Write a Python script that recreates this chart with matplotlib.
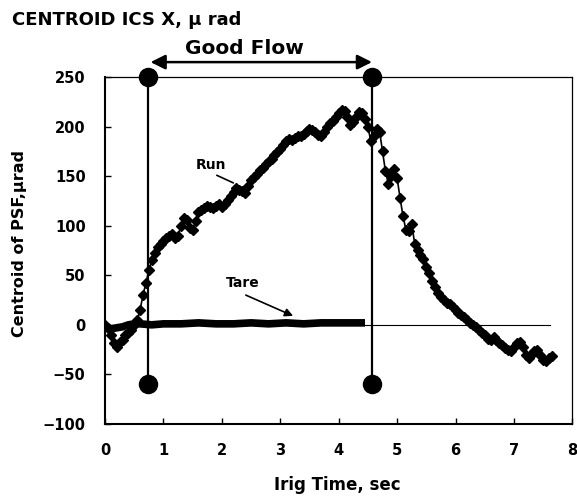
import numpy as np
import matplotlib
matplotlib.use("Agg")
import matplotlib.pyplot as plt

plt.rcParams['font.family'] = ['DejaVu Sans']

# ---- data ----
run_t = np.round(np.arange(0, 7.66, 0.05), 2)
run_v = [0, -3, -10, -18, -22, -17, -15, -10, -8, -5,
         0, 5, 15, 30, 42, 55, 65, 72, 79, 82,
         85, 88, 90, 92, 88, 90, 100, 108, 106, 98,
         96, 105, 114, 116, 118, 120, 119, 118, 120, 122,
         119, 122, 126, 130, 134, 138, 136, 135, 133, 140,
         146, 149, 152, 156, 158, 162, 165, 167, 171, 174,
         177, 181, 185, 187, 186, 188, 190, 190, 192, 196,
         198, 197, 194, 191, 190, 195, 200, 204, 206, 210,
         214, 217, 216, 210, 202, 205, 210, 215, 214, 208,
         200, 185, 190, 198, 195, 175, 155, 142, 150, 157,
         148, 128, 110, 96, 95, 102, 82, 75, 70, 66,
         58, 52, 44, 38, 32, 28, 25, 22, 21, 18,
         15, 12, 10, 8, 5, 2, 0, -2, -5, -8,
         -10, -14, -15, -12, -15, -18, -20, -23, -25, -26,
         -22, -18, -17, -22, -30, -33, -30, -26, -25, -30,
         -35, -36, -33, -31]

tare_t = [0.0, 0.1, 0.2, 0.3, 0.4, 0.5, 0.6, 0.8, 1.0, 1.3, 1.6, 1.9, 2.2,
          2.5, 2.8, 3.1, 3.4, 3.7, 4.0, 4.2, 4.45]
tare_v = [-2, -4, -3, -2, 0, 1, 1, 0, 1, 1, 2, 1, 1, 2, 1, 2, 1, 2, 2, 2, 2]
ref_t = [0.0, 7.62]
ref_v = [0, 0]

flow_start, flow_end = 0.73, 4.57
marker_top, marker_bottom = 250, -60

xticks = [0, 1, 2, 3, 4, 5, 6, 7, 8]
yticks = [-100, -50, 0, 50, 100, 150, 200, 250]

# ---- figure ----
fig = plt.figure(figsize=(5.77, 4.96), dpi=100)
ax = fig.add_axes([0.182, 0.1452, 0.810, 0.6996])
ax.set_xlim(0, 8)
ax.set_ylim(-100, 250)

ax.plot(ref_t, ref_v, color='black', lw=0.8, zorder=2)
ax.plot(tare_t, tare_v, color='black', lw=5.5, solid_capstyle='butt', zorder=3)
ax.plot(run_t, run_v, color='black', lw=1.2, marker='D', markersize=5,
        markerfacecolor='black', markeredgecolor='black', zorder=4)

for xv in (flow_start, flow_end):
    ax.plot([xv, xv], [marker_bottom, marker_top], color='black', lw=1.6,
            zorder=5, clip_on=False)
    ax.plot([xv, xv], [marker_bottom, marker_top], 'o', color='black',
            markersize=13, zorder=6, clip_on=False)

ax.annotate('', xy=(flow_end, 265), xytext=(flow_start + 0.05, 265),
            arrowprops=dict(arrowstyle='<|-|>', color='black', lw=1.8,
                            mutation_scale=22, shrinkA=0, shrinkB=0),
            annotation_clip=False)
ax.text(2.38, 279, 'Good Flow', ha='center', va='center', fontsize=14.5,
        fontweight='bold', clip_on=False)

ax.annotate('', xy=(2.24, 142), xytext=(1.87, 152),
            arrowprops=dict(arrowstyle='-', color='black', lw=1.2))
ax.text(1.82, 161, 'Run', ha='center', va='center', fontsize=10,
        fontweight='bold')
ax.annotate('', xy=(3.22, 9), xytext=(2.41, 30),
            arrowprops=dict(arrowstyle='-|>', color='black', lw=1.2,
                            mutation_scale=12, shrinkA=0, shrinkB=0))
ax.text(2.35, 42, 'Tare', ha='center', va='center', fontsize=10,
        fontweight='bold')

ax.set_xticks(xticks)
ax.set_yticks(yticks)
ax.tick_params(direction='in', length=4, width=1, labelsize=10.5)
ax.tick_params(axis='x', pad=14)
ax.tick_params(axis='y', pad=14)
for lab in ax.get_xticklabels() + ax.get_yticklabels():
    lab.set_fontweight('bold')

for s in ('left', 'bottom'):
    ax.spines[s].set_linewidth(1.5)
for s in ('top', 'right'):
    ax.spines[s].set_linewidth(0.9)

ax.set_xlabel('Irig Time, sec', fontsize=12, fontweight='bold', va='center')
ax.set_ylabel('Centroid of PSF,\u03bcrad', fontsize=11.5, fontweight='bold',
              va='center')
ax.xaxis.set_label_coords(0.498, -0.176)
ax.yaxis.set_label_coords(-0.183, 0.52)

fig.text(0.021, 0.96, 'CENTROID ICS X, \u03bc rad', fontsize=13,
         fontweight='bold', ha='left', va='center')

fig.savefig('out.png', dpi=100)
